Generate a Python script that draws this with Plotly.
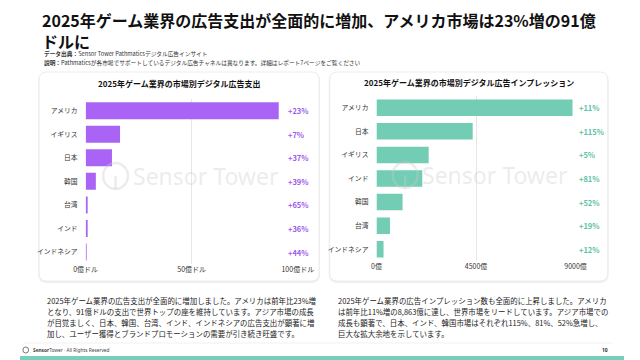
import plotly.graph_objects as go

# The page body adds an 8px margin, so the figure is sized/positioned to compensate.
OFF = 8
W, H = 640 - OFF, 360 - OFF
FONT = "Noto Sans CJK JP"

# ---- data ----
spend_markets = ["アメリカ", "イギリス", "日本", "韓国", "台湾", "インド", "インドネシア"]
spend_values = [91, 16.2, 12.4, 4.8, 0.7, 0.7, 0.3]          # 億ドル
spend_growth = ["+23%", "+7%", "+37%", "+39%", "+65%", "+36%", "+44%"]
spend_ticks = [0, 50, 100]
spend_ticktext = ["0億ドル", "50億ドル", "100億ドル"]

imp_markets = ["アメリカ", "日本", "イギリス", "インド", "韓国", "台湾", "インドネシア"]
imp_values = [8863, 4350, 2360, 2070, 1180, 610, 320]         # 億
imp_growth = ["+11%", "+115%", "+5%", "+81%", "+52%", "+19%", "+12%"]
imp_ticks = [0, 4500, 9000]
imp_ticktext = ["0億", "4500億", "9000億"]

title_lines = ["2025年ゲーム業界の広告支出が全面的に増加、アメリカ市場は23%増の91億", "ドルに"]
left_para = [
    "2025年ゲーム業界の広告支出が全面的に増加しました。アメリカは前年比23%増",
    "となり、91億ドルの支出で世界トップの座を維持しています。アジア市場の成長",
    "が目覚ましく、日本、韓国、台湾、インド、インドネシアの広告支出が顕著に増",
    "加し、ユーザー獲得とブランドプロモーションの需要が引き続き旺盛です。",
]
right_para = [
    "2025年ゲーム業界の広告インプレッション数も全面的に上昇しました。アメリカ",
    "は前年比11%増の8,863億に達し、世界市場をリードしています。アジア市場での",
    "成長も顕著で、日本、インド、韓国市場はそれぞれ115%、81%、52%急増し、",
    "巨大な拡大余地を示しています。",
]

PURPLE = "#A964F5"
PURPLE_T = "#9D5BE8"
TEAL = "#73CDB5"
TEAL_T = "#5DC2A4"


def px(x):
    return (x - OFF) / W


def py(y):
    return 1 - (y - OFF) / H


def rounded(x0, y0, x1, y1, r):
    X0, X1 = px(x0), px(x1)
    Y0, Y1 = py(y0), py(y1)
    rx, ry = r / W, r / H
    return (f"M {X0+rx},{Y0} L {X1-rx},{Y0} Q {X1},{Y0} {X1},{Y0-ry} "
            f"L {X1},{Y1+ry} Q {X1},{Y1} {X1-rx},{Y1} L {X0+rx},{Y1} "
            f"Q {X0},{Y1} {X0},{Y1+ry} L {X0},{Y0-ry} Q {X0},{Y0} {X0+rx},{Y0} Z")


fig = go.Figure()
fig.add_trace(go.Bar(x=spend_values, y=spend_markets, orientation="h",
                     marker=dict(color=PURPLE, line=dict(width=0)), width=0.72,
                     xaxis="x", yaxis="y", hoverinfo="skip"))
fig.add_trace(go.Bar(x=imp_values, y=imp_markets, orientation="h",
                     marker=dict(color=TEAL, line=dict(width=0)), width=0.70,
                     xaxis="x2", yaxis="y2", hoverinfo="skip"))

axis_common = dict(showline=False, zeroline=False, showgrid=True, gridcolor="#e6e6e6",
                   gridwidth=1, tickfont=dict(family=FONT, size=7, color="#333"), ticks="",
                   fixedrange=True)
yaxis_common = dict(showline=False, zeroline=False, showgrid=False, ticks="",
                    tickfont=dict(family=FONT, size=6.8, color="#333"), ticklabelstandoff=7,
                    fixedrange=True)

shapes = []
# card shadows and cards
for (x0, x1) in [(28, 321), (332, 623)]:
    shapes.append(dict(type="path", path=rounded(x0 - 1, 72, x1 + 1, 283, 9), xref="paper", yref="paper",
                       fillcolor="#f0f0f0", line=dict(width=0), layer="below"))
    shapes.append(dict(type="path", path=rounded(x0, 72, x1, 281, 8), xref="paper", yref="paper",
                       fillcolor="white", line=dict(color="#e8e8e8", width=0.8), layer="below"))
# watermark logos
for (cx, cy) in [(108, 176), (411, 175)]:
    shapes.append(dict(type="circle", xref="paper", yref="paper",
                       x0=px(cx - 13), x1=px(cx + 13), y0=py(cy + 13), y1=py(cy - 13),
                       line=dict(color="rgba(200,200,200,0.35)", width=2.5), layer="above"))
    shapes.append(dict(type="line", xref="paper", yref="paper",
                       x0=px(cx), x1=px(cx), y0=py(cy + 13), y1=py(cy),
                       line=dict(color="rgba(200,200,200,0.35)", width=2.5), layer="above"))
# footer separator & bottom band
shapes.append(dict(type="line", xref="paper", yref="paper", x0=px(12), x1=px(628), y0=py(343), y1=py(343),
                   line=dict(color="#eeeeee", width=0.8)))
shapes.append(dict(type="rect", xref="paper", yref="paper", x0=0, x1=1, y0=0, y1=py(356),
                   fillcolor="#74D0B9", line=dict(width=0)))
shapes.append(dict(type="circle", xref="paper", yref="paper", x0=px(11), x1=px(17), y0=py(353), y1=py(347),
                   line=dict(color="#555", width=0.8)))

ann = []
ann.append(dict(x=px(29), y=py(31), text="<b>" + title_lines[0] + "<br>" + title_lines[1] + "</b>",
                xanchor="left", yanchor="middle", align="left",
                font=dict(family=FONT, size=16, color="#111")))
ann.append(dict(x=px(31), y=py(54), text="<b>データ出典：</b>Sensor Tower Pathmaticsデジタル広告インサイト",
                xanchor="left", yanchor="middle", font=dict(family=FONT, size=5.7, color="#333")))
ann.append(dict(x=px(31), y=py(62),
                text="<b>説明：</b>Pathmaticsが各市場でサポートしているデジタル広告チャネルは異なります。詳細はレポート7ページをご覧ください",
                xanchor="left", yanchor="middle", font=dict(family=FONT, size=5.7, color="#333")))
ann.append(dict(x=px(174.5), y=py(83), text="<b>2025年ゲーム業界の市場別デジタル広告支出</b>",
                xanchor="center", yanchor="middle", font=dict(family=FONT, size=8, color="#111")))
ann.append(dict(x=px(477.5), y=py(82), text="<b>2025年ゲーム業界の市場別デジタル広告インプレッション</b>",
                xanchor="center", yanchor="middle", font=dict(family=FONT, size=8, color="#111")))
# watermarks
for (x, y) in [(124, 176), (427, 175)]:
    ann.append(dict(x=px(x), y=py(y), text="Sensor Tower", xanchor="left", yanchor="middle",
                    font=dict(family="Noto Sans", size=23, color="rgba(200,200,200,0.35)")))
# growth labels
for m, g in zip(spend_markets, spend_growth):
    ann.append(dict(x=px(286.5), xref="paper", y=m, yref="y", text="<b>" + g + "</b>", xanchor="left",
                    yanchor="middle", font=dict(family=FONT, size=7.5, color=PURPLE_T)))
for m, g in zip(imp_markets, imp_growth):
    ann.append(dict(x=px(590.5), xref="paper", y=m, yref="y2", text="<b>" + g + "</b>", xanchor="left",
                    yanchor="middle", font=dict(family=FONT, size=7.5, color=TEAL_T)))
# paragraphs
for i, line in enumerate(left_para):
    ann.append(dict(x=px(34), y=py(300.7 + 11 * i), text=line, xanchor="left", yanchor="middle",
                    font=dict(family=FONT, size=7.45, color="#222")))
for i, line in enumerate(right_para):
    ann.append(dict(x=px(339), y=py(300.7 + 11 * i), text=line, xanchor="left", yanchor="middle",
                    font=dict(family=FONT, size=7.45, color="#222")))
# footer
ann.append(dict(x=px(19), y=py(350), text="<b>Sensor</b>Tower · All Rights Reserved", xanchor="left",
                yanchor="middle", font=dict(family="Noto Sans", size=4.8, color="#444")))
ann.append(dict(x=px(625), y=py(350), text="<b>10</b>", xanchor="right", yanchor="middle",
                font=dict(family="Noto Sans", size=5, color="#333")))
for a in ann:
    a.setdefault("xref", "paper")
    a.setdefault("yref", "paper")
    a["showarrow"] = False

fig.update_layout(
    width=W, height=H, margin=dict(l=0, r=0, t=0, b=0),
    paper_bgcolor="white", plot_bgcolor="rgba(0,0,0,0)", showlegend=False,
    bargap=0.28,
    xaxis=dict(domain=[px(76.7), px(298.7)], range=[0, 100], tickvals=spend_ticks, ticktext=spend_ticktext,
               anchor="y", **axis_common),
    yaxis=dict(domain=[py(263.8), py(98.9)], range=[6.5, -0.5], categoryorder="array",
               categoryarray=spend_markets, anchor="x", **yaxis_common),
    xaxis2=dict(domain=[px(381), px(589.3)], range=[0, 9000], tickvals=imp_ticks, ticktext=imp_ticktext,
                anchor="y2", **axis_common),
    yaxis2=dict(domain=[py(261.1), py(95.9)], range=[6.5, -0.5], categoryorder="array",
                categoryarray=imp_markets, anchor="x2", **yaxis_common),
    shapes=shapes, annotations=ann,
)
fig.write_html("out.html")
